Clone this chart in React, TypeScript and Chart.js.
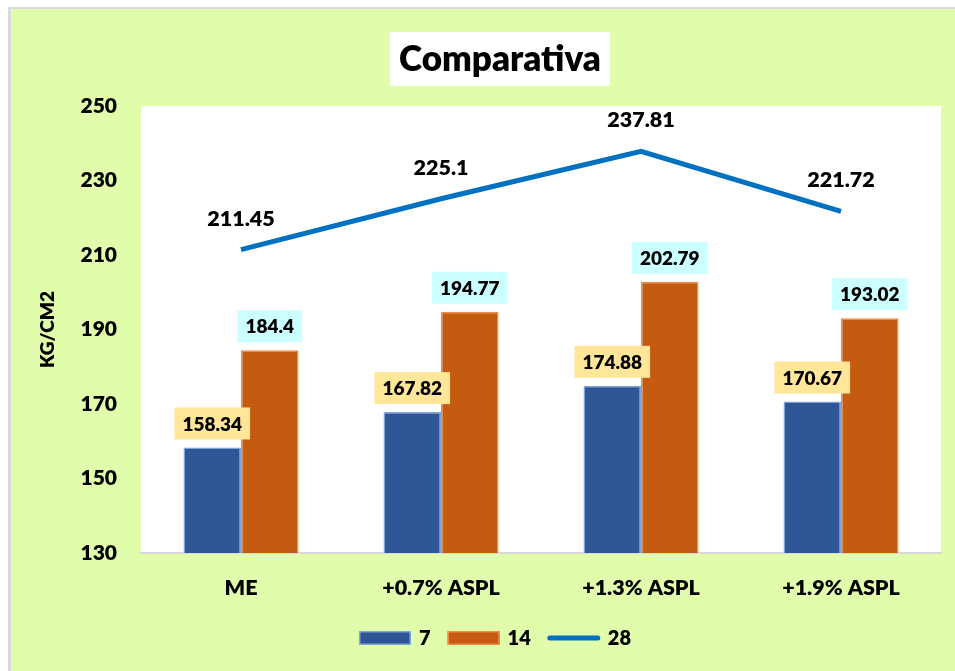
import React, { useEffect, useRef } from "react";
import { Chart, registerables } from "chart.js";

Chart.register(...registerables);

const categories = ["ME", "+0.7% ASPL", "+1.3% ASPL", "+1.9% ASPL"];
const series7 = [158.34, 167.82, 174.88, 170.67];
const series14 = [184.4, 194.77, 202.79, 193.02];
const series28 = [211.45, 225.1, 237.81, 221.72];
const seriesNames = ["7", "14", "28"];
const chartTitle = "Comparativa";
const yTitle = "KG/CM2";
const yMin = 130;
const yMax = 250;
const yStep = 20;

const FONT = "Lato, 'Open Sans', sans-serif";
const W = "800";
const BLUE = "#2F5597";
const BLUE_BORDER = "#7FA6D8";
const ORANGE = "#C55A11";
const ORANGE_BORDER = "#EE8A4A";
const LINE = "#0070C0";
const BG = "#E1FCAA";

const decorPlugin = {
  id: "decor",
  beforeDraw(chart: any) {
    const { ctx, chartArea } = chart;
    ctx.save();
    ctx.fillStyle = "#ffffff";
    ctx.fillRect(chartArea.left, chartArea.top, chartArea.right - chartArea.left, chartArea.bottom - chartArea.top);
    ctx.restore();
  },
  afterDatasetsDraw(chart: any) {
    const { ctx } = chart;
    ctx.save();
    const barFill = ["#FFE699", "#CCFFFF"];
    [0, 1].forEach((di) => {
      const meta = chart.getDatasetMeta(di);
      const data = chart.data.datasets[di].data as number[];
      ctx.font = `${W} 19px ${FONT}`;
      meta.data.forEach((el: any, i: number) => {
        const txt = String(data[i]);
        const w = ctx.measureText(txt).width + 16;
        const h = 32;
        const cx = el.x;
        const bottom = el.y - 8;
        ctx.fillStyle = barFill[di];
        ctx.fillRect(cx - w / 2, bottom - h, w, h);
        ctx.fillStyle = "#000";
        ctx.textAlign = "center";
        ctx.textBaseline = "middle";
        ctx.fillText(txt, cx, bottom - h / 2 + 1);
      });
    });
    const lmeta = chart.getDatasetMeta(2);
    const ldata = chart.data.datasets[2].data as number[];
    ctx.font = `${W} 21.5px ${FONT}`;
    lmeta.data.forEach((el: any, i: number) => {
      ctx.fillStyle = "#000";
      ctx.textAlign = "center";
      ctx.textBaseline = "middle";
      ctx.fillText(String(ldata[i]), el.x, el.y - 31);
    });
    ctx.restore();
  },
  afterDraw(chart: any) {
    const { ctx } = chart;
    ctx.save();
    ctx.font = `${W} 35px ${FONT}`;
    const tw = ctx.measureText(chartTitle).width;
    const tcx = 489;
    const tcy = 50;
    ctx.fillStyle = "#ffffff";
    ctx.fillRect(tcx - tw / 2 - 9, tcy - 27, tw + 18, 54);
    ctx.fillStyle = "#000";
    ctx.textAlign = "center";
    ctx.textBaseline = "middle";
    ctx.fillText(chartTitle, tcx, tcy + 1);

    ctx.font = `${W} 20px ${FONT}`;
    const boxW = 52;
    const boxH = 14;
    const gapText = 8;
    const gapItem = 17;
    const widths = seriesNames.map((n) => boxW + gapText + ctx.measureText(n).width);
    const total = widths.reduce((a, b) => a + b, 0) + gapItem * (widths.length - 1);
    let x = 484 - total / 2;
    const ly = 629;
    seriesNames.forEach((n, i) => {
      if (i < 2) {
        ctx.fillStyle = i === 0 ? BLUE : ORANGE;
        ctx.fillRect(x, ly - boxH / 2, boxW, boxH);
        ctx.strokeStyle = i === 0 ? BLUE_BORDER : ORANGE_BORDER;
        ctx.lineWidth = 1.5;
        ctx.strokeRect(x + 0.75, ly - boxH / 2 + 0.75, boxW - 1.5, boxH - 1.5);
      } else {
        ctx.strokeStyle = LINE;
        ctx.lineWidth = 5;
        ctx.lineCap = "round";
        ctx.beginPath();
        ctx.moveTo(x + 2, ly);
        ctx.lineTo(x + boxW - 2, ly);
        ctx.stroke();
      }
      ctx.fillStyle = "#000";
      ctx.textAlign = "left";
      ctx.textBaseline = "middle";
      ctx.fillText(n, x + boxW + gapText, ly + 1);
      x += widths[i] + gapItem;
    });
    ctx.restore();
  },
};

export default function App() {
  const ref = useRef<HTMLCanvasElement | null>(null);
  useEffect(() => {
    if (!ref.current) return;
    const chart = new Chart(ref.current, {
      type: "bar",
      data: {
        labels: categories,
        datasets: [
          {
            type: "bar",
            label: seriesNames[0],
            data: series7,
            backgroundColor: BLUE,
            borderColor: BLUE_BORDER,
            borderWidth: 1.5,
            categoryPercentage: 0.575,
            barPercentage: 1,
            order: 1,
          },
          {
            type: "bar",
            label: seriesNames[1],
            data: series14,
            backgroundColor: ORANGE,
            borderColor: ORANGE_BORDER,
            borderWidth: 1.5,
            categoryPercentage: 0.575,
            barPercentage: 1,
            order: 1,
          },
          {
            type: "line",
            label: seriesNames[2],
            data: series28,
            borderColor: LINE,
            borderWidth: 5,
            pointRadius: 0,
            tension: 0,
            order: 0,
          } as any,
        ],
      },
      options: {
        animation: false,
        responsive: false,
        maintainAspectRatio: false,
        layout: { padding: { left: 0, right: 14, top: 97, bottom: 58 } },
        plugins: {
          legend: { display: false },
          title: { display: false },
          tooltip: { enabled: false },
        },
        scales: {
          x: {
            offset: true,
            grid: { display: false, drawTicks: false },
            border: { display: true, color: "#D9D9D9", width: 2 },
            ticks: { color: "#000", font: { family: FONT, size: 21.5, weight: W as any }, padding: 22, maxRotation: 0 },
            afterFit: (s: any) => {
              s.height = 60;
            },
          },
          y: {
            min: yMin,
            max: yMax,
            grid: { display: false, drawTicks: false },
            border: { display: false },
            ticks: { stepSize: yStep, color: "#000", font: { family: FONT, size: 21, weight: W as any }, padding: 24 },
            title: {
              display: true,
              text: yTitle,
              color: "#000",
              font: { family: FONT, size: 19, weight: W as any },
              padding: { top: 25, bottom: 0 },
            },
            afterFit: (s: any) => {
              s.width = 130;
            },
          },
        },
      },
      plugins: [decorPlugin],
    });
    return () => chart.destroy();
  }, []);
  return (
    <div
      style={{
        position: "fixed",
        left: 8,
        top: 7,
        width: 947,
        height: 664,
        boxSizing: "border-box",
        borderLeft: "3px solid #DADADA",
        borderTop: "2px solid #DADADA",
        background: BG,
      }}
    >
      <canvas ref={ref} width={944} height={662} style={{ display: "block", width: 944, height: 662 }} />
    </div>
  );
}
